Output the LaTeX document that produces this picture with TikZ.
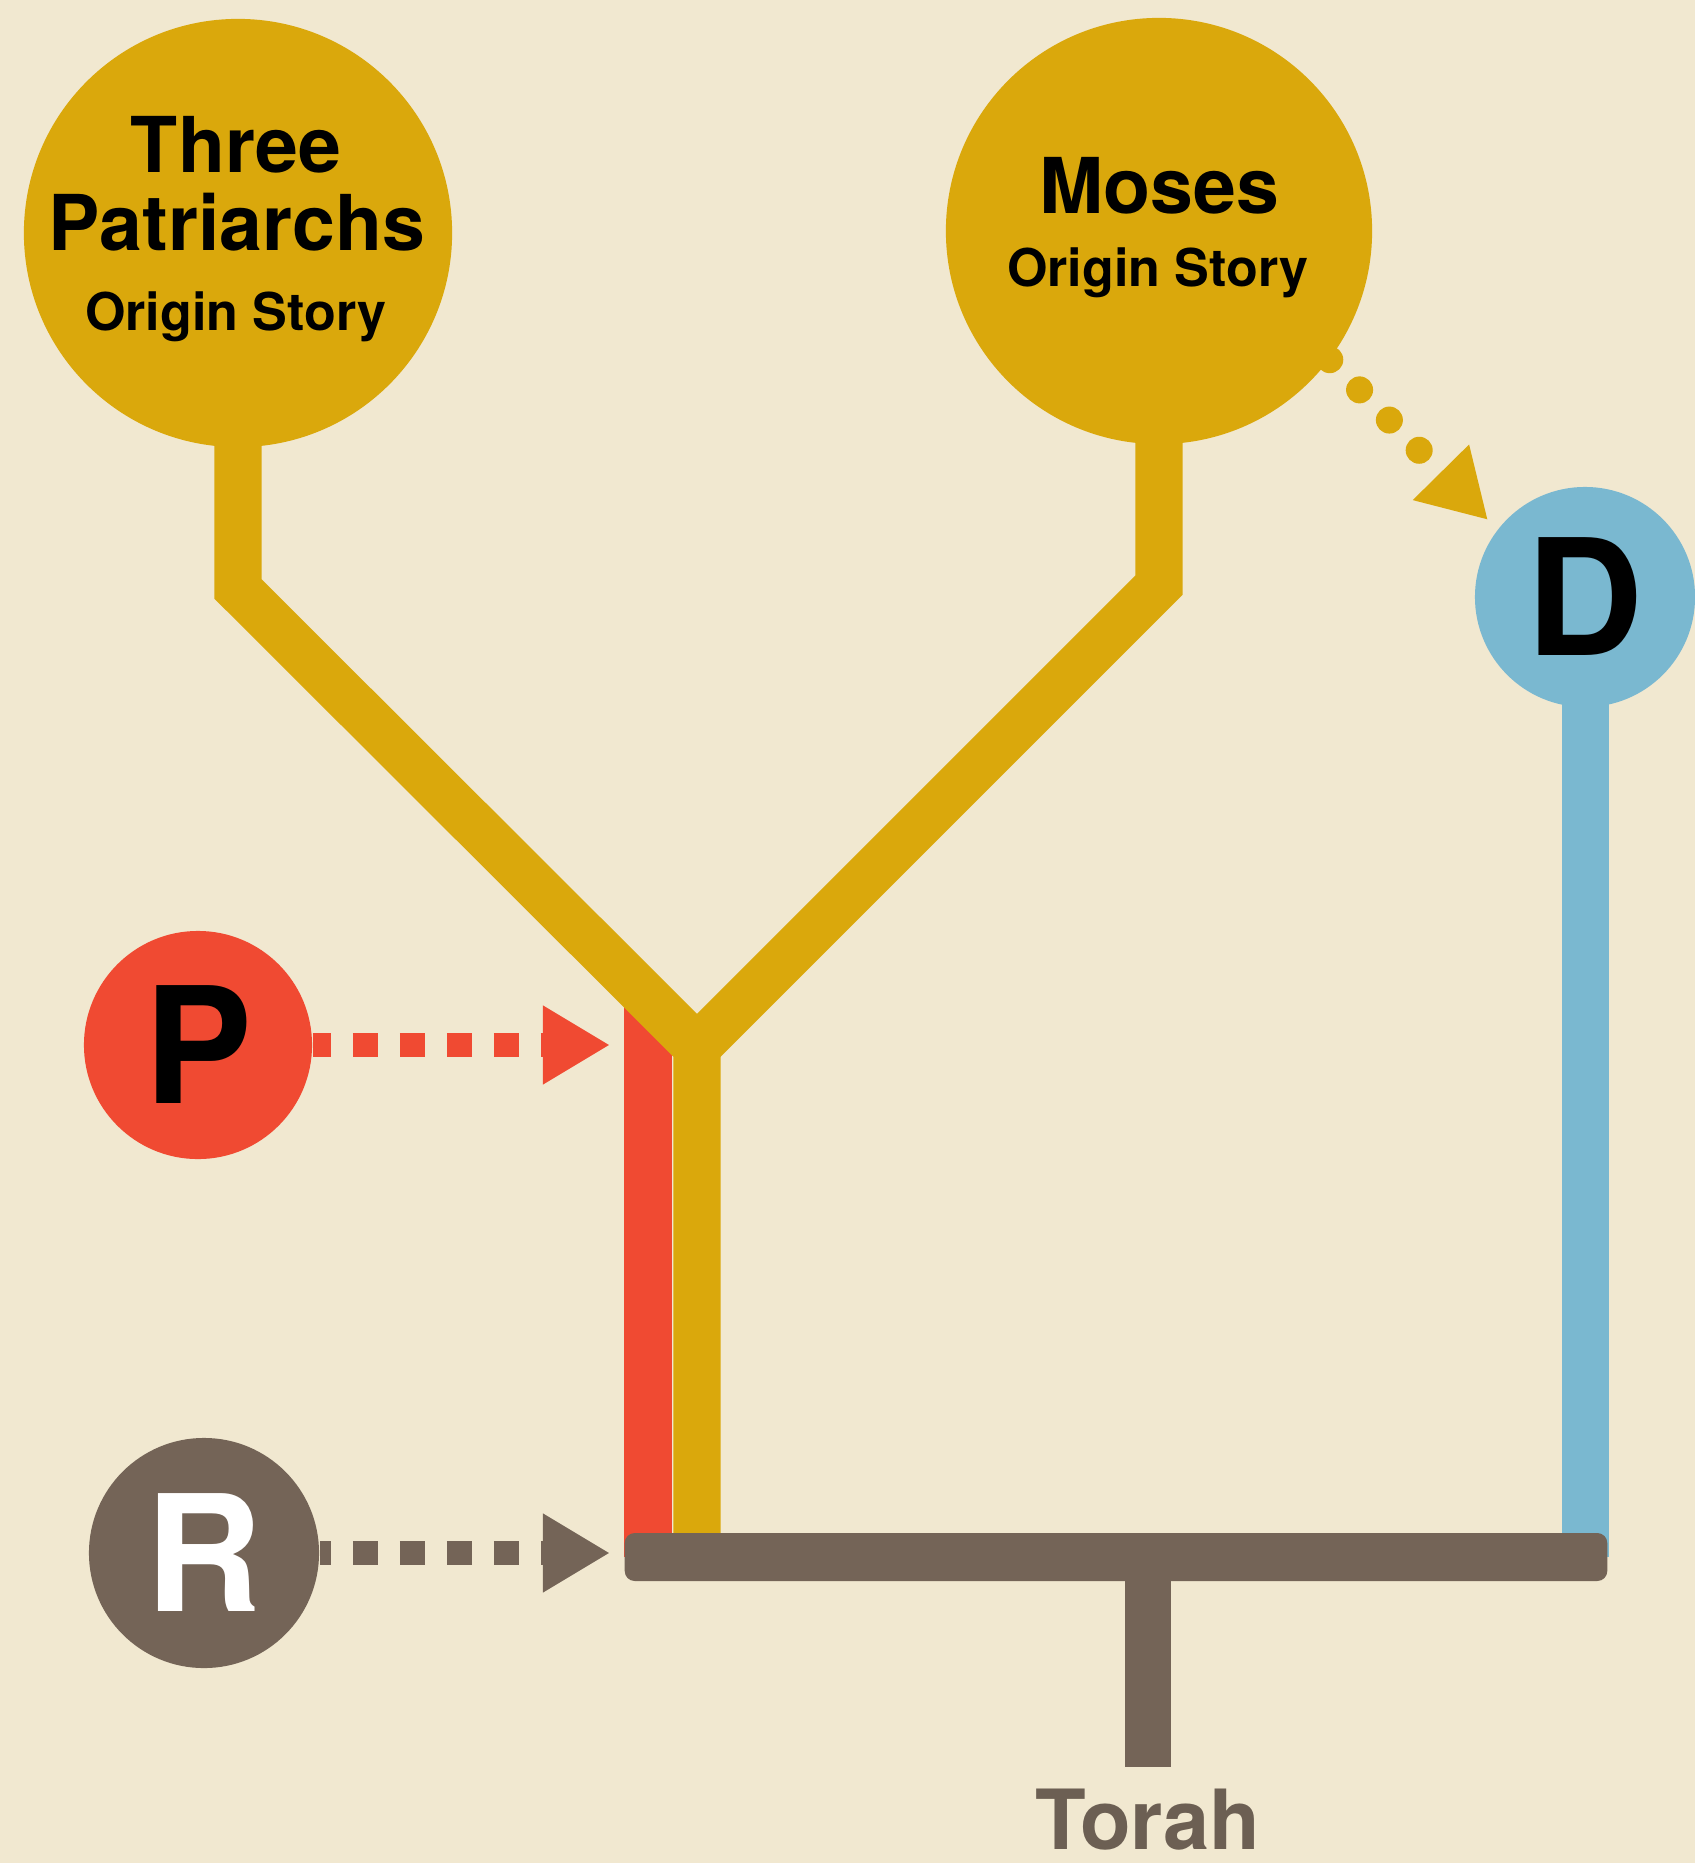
\documentclass[tikz,border=0pt]{standalone}
\usepackage{fontspec}
\setmainfont{TeX Gyre Heros}
\usetikzlibrary{arrows.meta,calc}
\definecolor{bgc}{RGB}{241,232,208}
\definecolor{gold}{RGB}{218,168,12}
\definecolor{redc}{RGB}{240,74,50}
\definecolor{bluec}{RGB}{122,184,208}
\definecolor{brownc}{RGB}{116,100,87}
\definecolor{torahc}{RGB}{108,95,83}
\pgfdeclarelayer{bg}
\pgfsetlayers{bg,main}
\begin{document}
\begin{tikzpicture}[x=0.01cm,y=-0.01cm,
  blob/.style={circle, inner sep=0pt, minimum size=#1},
  bigtxt/.style={font=\fontsize{21.9}{22}\selectfont\bfseries, anchor=base, inner sep=0pt},
  smalltxt/.style={font=\fontsize{14.8}{15}\selectfont\bfseries, anchor=base, inner sep=0pt},
  letter/.style={font=\fontsize{46}{46}\selectfont\bfseries},
  track/.style={line width=0.47cm, line join=miter},
  dotarrow/.style={line width=0.24cm, dash pattern=on 0.25cm off 0.22cm,
    -{Triangle[length=0.67cm,width=0.74cm]}}
]
\useasboundingbox (0,0) rectangle (1695,1863);
% circles
\node[blob=4.28cm, fill=gold] (tp) at (238,233) {};
\node[bigtxt] (tpa) at (236,172) {Three};
\node[bigtxt] (tpb) at (237,250) {Patriarchs};
\node[smalltxt] (tpc) at (236,330) {Origin Story};
\node[blob=4.26cm, fill=gold] (mo) at (1159,231) {};
\node[bigtxt] (moa) at (1159,213) {Moses};
\node[smalltxt] (mob) at (1158,286) {Origin Story};
\node[blob=2.2cm, fill=bluec, letter] (D) at (1585,597) {D};
\node[blob=2.28cm, fill=redc, letter] (P) at (198,1045) {P};
\node[blob=2.3cm, fill=brownc, letter, text=white] (R) at (204,1553) {R};
\node[rectangle, fill=brownc, rounded corners=0.1cm, minimum width=9.82cm,
  minimum height=0.48cm, inner sep=0pt] (bar) at (1116,1557) {};
\node[font=\fontsize{23.6}{24}\selectfont\bfseries, text=torahc, anchor=base,
  inner sep=0pt] (torah) at (1148,1849) {Torah};
\coordinate (rtop) at (648,995);
\coordinate (tend) at (1148,1767);
\coordinate (ptip) at (610,1045);
\coordinate (rtip) at (610,1553);
\coordinate (dtip) at (1488,520);
\begin{pgfonlayer}{bg}
\fill[bgc] (0,0) rectangle (1695,1863);
\draw[track,redc] (rtop) -- (rtop |- bar.center);
\draw[track,gold] (tp.center) -- ++(0,356) -- (697,1047) coordinate (J) -- (J |- bar.center);
\draw[track,gold] (mo.center) -- ++(0,354) -- (J);
\draw[track,bluec] (D.center) -- (D.center |- bar.center);
\draw[track,brownc,line width=0.46cm] (tend |- bar.center) -- (tend);
\draw[dotarrow,redc,dash phase=0.07cm] (P.east) -- (ptip);
\draw[dotarrow,brownc,dash phase=0.14cm] (R.east) -- (rtip);
\draw[gold, line width=0.27cm, line cap=round, dash pattern=on 0pt off 0.424cm,
  -{Triangle[length=0.67cm,width=0.74cm]}] (mo.-37) -- (dtip);
\end{pgfonlayer}
\end{tikzpicture}
\end{document}
